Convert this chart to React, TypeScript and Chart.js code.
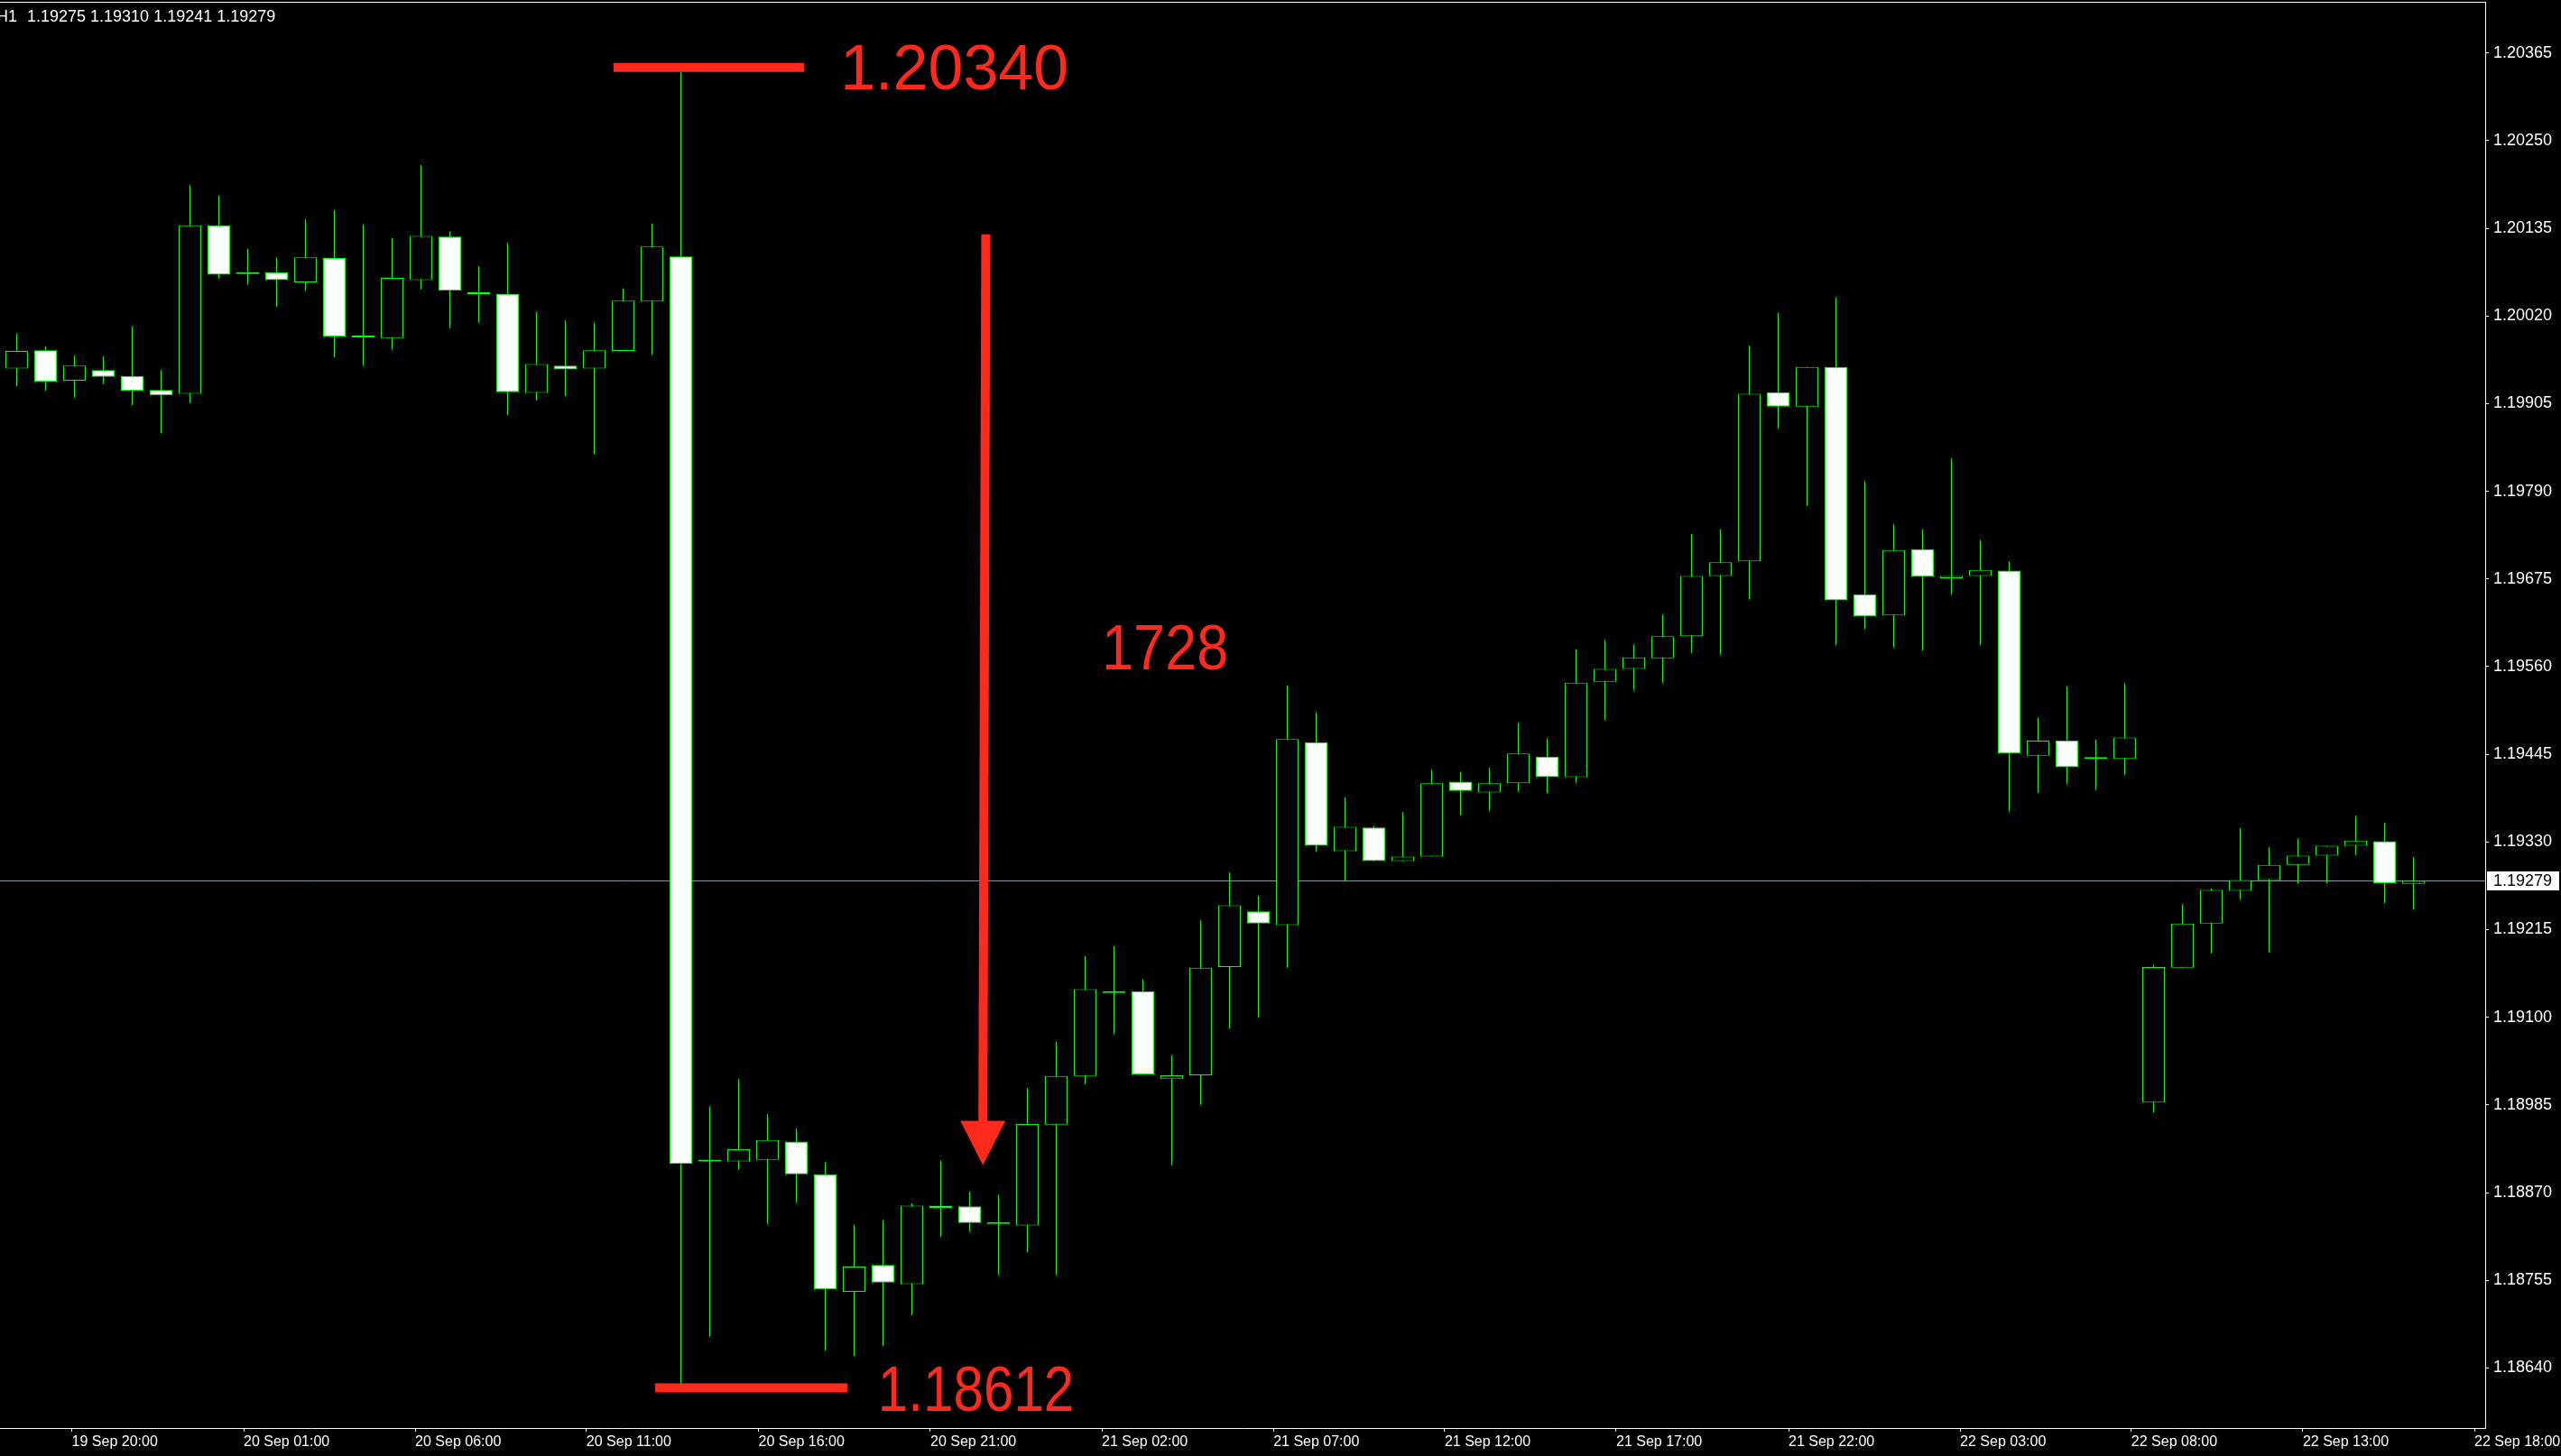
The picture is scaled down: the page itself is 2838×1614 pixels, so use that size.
import React, { useEffect, useRef } from 'react';
import { Chart, registerables } from 'chart.js';

Chart.register(...registerables);

// ---- Data (EURUSD H1) ----
const opens = [
  1.19951, 1.19975, 1.19935, 1.19949, 1.19941, 1.19923, 1.19918, 1.20139, 1.20075, 1.20077,
  1.20064, 1.20096, 1.19992, 1.19991, 1.20067, 1.20124, 1.20051, 1.20049, 1.19919, 1.19955,
  1.19951, 1.19974, 1.20039, 1.20098, 1.18911, 1.18911, 1.18913, 1.18937, 1.18894, 1.18740,
  1.18775, 1.18750, 1.18853, 1.18852, 1.18829, 1.18827, 1.18959, 1.19023, 1.19132, 1.19134,
  1.19019, 1.19024, 1.19166, 1.19239, 1.19221, 1.19461, 1.19318, 1.19349, 1.19305, 1.19311,
  1.19409, 1.19395, 1.19407, 1.19442, 1.19415, 1.19540, 1.19557, 1.19571, 1.19600, 1.19679,
  1.19698, 1.19920, 1.19901, 1.19953, 1.19655, 1.19627, 1.19714, 1.19676, 1.19679, 1.19686,
  1.19443, 1.19463, 1.19439, 1.19439, 1.18988, 1.19165, 1.19223, 1.19266, 1.19280, 1.19300,
  1.19312, 1.19325, 1.19331, 1.19275,
];
const highs = [
  1.19997, 1.19980, 1.19968, 1.19967, 1.20006, 1.19949, 1.20192, 1.20178, 1.20108, 1.20097,
  1.20147, 1.20159, 1.20140, 1.20122, 1.20218, 1.20131, 1.20085, 1.20116, 1.20025, 1.20014,
  1.20011, 1.20056, 1.20141, 1.20340, 1.18983, 1.19019, 1.18973, 1.18954, 1.18910, 1.18828,
  1.18834, 1.18856, 1.18912, 1.18871, 1.18867, 1.19007, 1.19068, 1.19180, 1.19193, 1.19150,
  1.19050, 1.19227, 1.19290, 1.19259, 1.19535, 1.19500, 1.19389, 1.19351, 1.19369, 1.19425,
  1.19422, 1.19427, 1.19486, 1.19466, 1.19583, 1.19595, 1.19589, 1.19628, 1.19734, 1.19740,
  1.19981, 1.20024, 1.19953, 1.20044, 1.19803, 1.19747, 1.19740, 1.19833, 1.19726, 1.19698,
  1.19493, 1.19534, 1.19464, 1.19538, 1.19169, 1.19248, 1.19269, 1.19348, 1.19323, 1.19334,
  1.19325, 1.19364, 1.19355, 1.19310,
];
const lows = [
  1.19928, 1.19922, 1.19913, 1.19931, 1.19903, 1.19866, 1.19906, 1.20069, 1.20061, 1.20032,
  1.20053, 1.19966, 1.19955, 1.19976, 1.20055, 1.20004, 1.20011, 1.19890, 1.19909, 1.19915,
  1.19839, 1.19974, 1.19969, 1.18612, 1.18681, 1.18900, 1.18829, 1.18857, 1.18663, 1.18656,
  1.18669, 1.18709, 1.18812, 1.18819, 1.18762, 1.18792, 1.18762, 1.19012, 1.19078, 1.19025,
  1.18906, 1.18985, 1.19085, 1.19100, 1.19165, 1.19317, 1.19278, 1.19305, 1.19305, 1.19311,
  1.19365, 1.19371, 1.19396, 1.19394, 1.19408, 1.19490, 1.19529, 1.19539, 1.19578, 1.19576,
  1.19648, 1.19872, 1.19771, 1.19588, 1.19609, 1.19585, 1.19581, 1.19655, 1.19588, 1.19370,
  1.19395, 1.19406, 1.19398, 1.19418, 1.18975, 1.19165, 1.19184, 1.19255, 1.19185, 1.19275,
  1.19276, 1.19313, 1.19250, 1.19241,
];
const closes = [
  1.19974, 1.19934, 1.19955, 1.19940, 1.19922, 1.19916, 1.20139, 1.20074, 1.20075, 1.20067,
  1.20097, 1.19993, 1.19992, 1.20070, 1.20125, 1.20053, 1.20048, 1.19920, 1.19957, 1.19950,
  1.19975, 1.20040, 1.20111, 1.18908, 1.18913, 1.18927, 1.18939, 1.18894, 1.18743, 1.18773,
  1.18752, 1.18853, 1.18850, 1.18830, 1.18829, 1.18960, 1.19023, 1.19137, 1.19132, 1.19025,
  1.19024, 1.19165, 1.19247, 1.19223, 1.19465, 1.19325, 1.19350, 1.19305, 1.19311, 1.19407,
  1.19397, 1.19407, 1.19446, 1.19415, 1.19539, 1.19557, 1.19572, 1.19600, 1.19679, 1.19697,
  1.19918, 1.19901, 1.19953, 1.19647, 1.19626, 1.19713, 1.19678, 1.19679, 1.19687, 1.19446,
  1.19463, 1.19428, 1.19441, 1.19467, 1.19166, 1.19223, 1.19267, 1.19280, 1.19300, 1.19312,
  1.19325, 1.19332, 1.19276, 1.19279,
];

const priceTicks = [
  1.18640, 1.18755, 1.18870, 1.18985, 1.19100, 1.19215, 1.19330, 1.19445,
  1.19560, 1.19675, 1.19790, 1.19905, 1.20020, 1.20135, 1.20250, 1.20365,
];
const timeLabels = [
  '19 Sep 20:00', '20 Sep 01:00', '20 Sep 06:00', '20 Sep 11:00', '20 Sep 16:00',
  '20 Sep 21:00', '21 Sep 02:00', '21 Sep 07:00', '21 Sep 12:00', '21 Sep 17:00',
  '21 Sep 22:00', '22 Sep 03:00', '22 Sep 08:00', '22 Sep 13:00', '22 Sep 18:00',
];
// positions of the time labels, in bar units
const timeLabelBars = [
  1.91, 7.86, 13.80, 19.73, 25.69, 31.64, 37.58, 43.52, 49.45, 55.39, 61.36, 67.30, 73.23, 79.17, 85.11,
];

// ---- Annotation settings (data units) ----
const annot = {
  topBar: { from: 20.67, to: 27.27, price: 1.20346 },
  bottomBar: { from: 22.11, to: 28.77, price: 1.18614 },
  topText: { x: 28.52, price: 1.20317, squeeze: 1 },
  bottomText: { x: 29.82, price: 1.18584, squeeze: 0.86 },
  rangeText: { x: 37.58, price: 1.19556, squeeze: 0.9 },
  arrow: { xTop: 33.56, xBottom: 33.46, top: 1.20127, headTop: 1.18964, tip: 1.18906, headHalf: 0.78 },
};

const LIME = '#00ff00';
const RED = '#ff2a1c';
const AXIS_FONT = '"Liberation Sans", Arial, sans-serif';

const X_MIN = -0.578125;
const X_MAX = 85.484375;
const Y_MIN = 1.185612;
const Y_MAX = 1.204321;

export default function App() {
  const ref = useRef<HTMLCanvasElement | null>(null);

  useEffect(() => {
    document.body.style.margin = '0';
    document.body.style.background = '#000';
    const canvas = ref.current;
    if (!canvas) return;

    const idx = opens.map((_, i) => i);
    const last = idx.length - 1;
    const hi = Math.max(...highs);
    const lo = Math.min(...lows);

    const overlay = {
      id: 'overlay',
      beforeDraw(chart: any) {
        const { ctx, width, height } = chart;
        ctx.save();
        ctx.fillStyle = '#000';
        ctx.fillRect(0, 0, width, height);
        ctx.restore();
      },
      beforeDatasetsDraw(chart: any) {
        const { ctx, chartArea: a, scales } = chart;
        const py = Math.round(scales.y.getPixelForValue(closes[last])) + 0.5;
        ctx.save();
        ctx.strokeStyle = '#8a949e';
        ctx.lineWidth = 1;
        ctx.beginPath();
        ctx.moveTo(a.left, py);
        ctx.lineTo(a.right, py);
        ctx.stroke();
        ctx.restore();
      },
      afterDraw(chart: any) {
        const { ctx, chartArea: a, scales } = chart;
        const x = scales.x;
        const y = scales.y;
        ctx.save();
        // top frame line
        ctx.fillStyle = '#ffffff';
        ctx.fillRect(0, a.top, a.right + 1, 1);

        // red level bars
        ctx.fillStyle = RED;
        const bar = (b: { from: number; to: number; price: number }) => {
          const x1 = x.getPixelForValue(b.from);
          const x2 = x.getPixelForValue(b.to);
          const yc = y.getPixelForValue(b.price);
          ctx.fillRect(x1, yc - 5, x2 - x1, 10);
        };
        bar(annot.topBar);
        bar(annot.bottomBar);

        // arrow
        const ar = annot.arrow;
        const xt = x.getPixelForValue(ar.xTop);
        const xb = x.getPixelForValue(ar.xBottom);
        const yt = y.getPixelForValue(ar.top);
        const yh = y.getPixelForValue(ar.headTop);
        const ytip = y.getPixelForValue(ar.tip);
        const half = x.getPixelForValue(ar.xBottom + ar.headHalf) - xb;
        ctx.beginPath();
        ctx.moveTo(xt - 5, yt);
        ctx.lineTo(xt + 5, yt);
        ctx.lineTo(xb + 5, yh + 2);
        ctx.lineTo(xb - 5, yh + 2);
        ctx.closePath();
        ctx.fill();
        ctx.beginPath();
        ctx.moveTo(xb - half, yh);
        ctx.lineTo(xb + half, yh);
        ctx.lineTo(xb, ytip);
        ctx.closePath();
        ctx.fill();

        // red texts
        ctx.font = `70px ${AXIS_FONT}`;
        ctx.textBaseline = 'alphabetic';
        ctx.textAlign = 'left';
        const redText = (t: string, p: { x: number; price: number; squeeze: number }) => {
          const w = ctx.measureText(t).width;
          ctx.fillText(t, x.getPixelForValue(p.x), y.getPixelForValue(p.price), w * p.squeeze);
        };
        redText(hi.toFixed(5), annot.topText);
        redText(lo.toFixed(5), annot.bottomText);
        redText(String(Math.round((hi - lo) * 100000)), annot.rangeText);

        // header
        ctx.fillStyle = '#ffffff';
        ctx.font = `18px ${AXIS_FONT}`;
        ctx.textAlign = 'left';
        ctx.fillText('H1', -4, 24);
        ctx.fillText(
          [opens[last], highs[last], lows[last], closes[last]].map((v) => v.toFixed(5)).join(' '),
          30,
          24,
        );

        // current price label
        const py = Math.round(y.getPixelForValue(closes[last]));
        ctx.fillStyle = '#ffffff';
        ctx.fillRect(a.right + 2, py - 10, 80, 21);
        ctx.fillStyle = '#000000';
        ctx.textBaseline = 'middle';
        ctx.fillText(closes[last].toFixed(5), a.right + 9, py + 1);
        ctx.restore();
      },
    };

    const chart = new Chart(canvas, {
      type: 'bar',
      data: {
        datasets: [
          {
            label: 'wick',
            data: idx.map((i) => ({ x: i, y: [lows[i], highs[i]] })) as any,
            backgroundColor: LIME,
            borderWidth: 0,
            grouped: false,
            barPercentage: 1,
            categoryPercentage: 1,
            maxBarThickness: 1,
            inflateAmount: 0,
            order: 2,
          } as any,
          {
            label: 'body',
            data: idx.map((i) => ({ x: i, y: [opens[i], closes[i]] })) as any,
            backgroundColor: idx.map((i) => (closes[i] < opens[i] ? '#ffffff' : '#000000')),
            borderColor: LIME,
            borderWidth: 1,
            borderSkipped: false,
            grouped: false,
            barPercentage: 1,
            categoryPercentage: 1,
            maxBarThickness: 25,
            minBarLength: 2,
            inflateAmount: 0,
            order: 1,
          } as any,
        ],
      },
      options: {
        responsive: false,
        animation: false,
        devicePixelRatio: 1,
        events: [],
        layout: { padding: { top: 2, left: 0, right: 0, bottom: 0 } },
        plugins: {
          legend: { display: false },
          tooltip: { enabled: false },
          title: { display: false },
        },
        scales: {
          x: {
            type: 'linear',
            min: X_MIN,
            max: X_MAX,
            bounds: 'data',
            offset: false,
            grid: {
              display: true,
              drawOnChartArea: false,
              drawTicks: true,
              tickLength: 4,
              color: '#ffffff',
              offset: false,
            },
            border: { display: true, color: '#ffffff', width: 1 },
            ticks: {
              autoSkip: false,
              maxRotation: 0,
              minRotation: 0,
              align: 'start',
              padding: 2,
              color: '#ffffff',
              font: { family: AXIS_FONT, size: 16 },
              callback: (_v: any, i: number) => timeLabels[i] ?? '',
            },
            afterBuildTicks: (s: any) => {
              s.ticks = timeLabelBars.map((v) => ({ value: v }));
            },
            afterFit: (s: any) => {
              s.height = 31;
              s.paddingLeft = 0;
              s.paddingRight = 0;
            },
          } as any,
          y: {
            type: 'linear',
            position: 'right',
            min: Y_MIN,
            max: Y_MAX,
            beginAtZero: false,
            bounds: 'data',
            grid: {
              display: true,
              drawOnChartArea: false,
              drawTicks: true,
              tickLength: 4,
              color: '#ffffff',
            },
            border: { display: true, color: '#ffffff', width: 1 },
            ticks: {
              autoSkip: false,
              crossAlign: 'near',
              padding: 5,
              color: '#ffffff',
              font: { family: AXIS_FONT, size: 18 },
              callback: (v: any) => Number(v).toFixed(5),
            },
            afterBuildTicks: (s: any) => {
              s.ticks = priceTicks.map((v) => ({ value: v }));
            },
            afterFit: (s: any) => {
              s.width = 84;
              s.paddingTop = 0;
              s.paddingBottom = 0;
            },
          } as any,
        },
      } as any,
      plugins: [overlay],
    });

    return () => chart.destroy();
  }, []);

  return (
    <canvas
      ref={ref}
      width={2838}
      height={1614}
      style={{ display: 'block', width: '2838px', height: '1614px', background: '#000' }}
    />
  );
}
